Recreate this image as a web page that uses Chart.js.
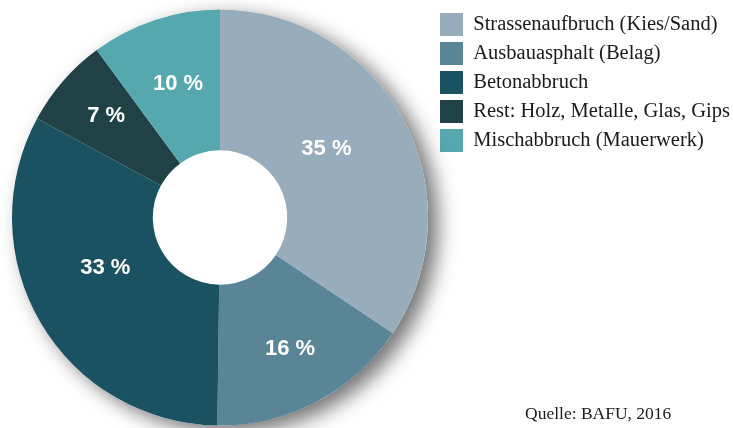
<!DOCTYPE html>
<html>
<head>
<meta charset="utf-8">
<script src="https://cdn.jsdelivr.net/npm/chart.js@4"></script>
<style>
  body { margin: 0; background: #fff; }
</style>
</head>
<body>
<canvas id="myChart" width="733" height="428"></canvas>
<script>
const categories = [
    'Strassenaufbruch (Kies/Sand)',
    'Ausbauasphalt (Belag)',
    'Betonabbruch',
    'Rest: Holz, Metalle, Glas, Gips',
    'Mischabbruch (Mauerwerk)'
];
// slice sizes, in percent
const shares = [34.4, 15.8, 32.7, 7.0, 10.1];
// the percent labels printed on the slices
const shareLabels = ['35 %', '16 %', '33 %', '7 %', '10 %'];
const sliceColors = ['#98adbb', '#598597', '#1a5262', '#204246', '#55a8ad'];
// small hand nudges for the slice labels (x, y)
const labelNudge = [[-15, -4], [6, 10], [4, -19], [-10, -11], [1, -3]];
const sourceText = 'Quelle: BAFU, 2016';

const shadowPlugin = {
    id: 'pieShadow',
    beforeDatasetsDraw(chart) {
        const arc = chart.getDatasetMeta(0).data[0];
        if (!arc) return;
        const ctx = chart.ctx;
        ctx.save();
        ctx.shadowColor = 'rgba(0,0,0,0.55)';
        ctx.shadowBlur = 20;
        ctx.shadowOffsetX = 10;
        ctx.shadowOffsetY = 7;
        ctx.beginPath();
        ctx.arc(arc.x, arc.y, arc.outerRadius, 0, Math.PI * 2);
        ctx.fillStyle = '#fff';
        ctx.fill();
        ctx.restore();
    }
};

const sliceLabels = {
    id: 'sliceLabels',
    afterDatasetsDraw(chart) {
        const ctx = chart.ctx;
        ctx.save();
        ctx.font = 'bold 22px "Liberation Sans", Arial, sans-serif';
        ctx.fillStyle = '#fff';
        ctx.textAlign = 'center';
        ctx.textBaseline = 'middle';
        chart.getDatasetMeta(0).data.forEach((arc, i) => {
            const p = arc.getCenterPoint();
            ctx.fillText(shareLabels[i], p.x + labelNudge[i][0], p.y + labelNudge[i][1]);
        });
        ctx.restore();
    },
    afterDraw(chart) {
        const ctx = chart.ctx;
        ctx.save();
        ctx.font = '17.5px "Liberation Serif", "Times New Roman", serif';
        ctx.fillStyle = '#1a1a1a';
        ctx.textAlign = 'left';
        ctx.textBaseline = 'alphabetic';
        ctx.fillText(sourceText, 525, 419);
        ctx.restore();
    }
};

const ctx = document.getElementById('myChart');

const chart = new Chart(ctx, {
    type: 'doughnut',
    data: {
        labels: categories,
        datasets: [{
            data: shares,
            backgroundColor: sliceColors,
            borderWidth: 0,
            radius: 208,
            cutout: 68
        }]
    },
    options: {
        responsive: false,
        animation: false,
        devicePixelRatio: 1,
        layout: {
            padding: { left: 6, top: 7, right: 0, bottom: -5 }
        },
        plugins: {
            tooltip: { enabled: false },
            legend: {
                position: 'right',
                align: 'start',
                maxWidth: 299,
                labels: {
                    boxWidth: 23,
                    boxHeight: 23,
                    padding: 6,
                    color: '#1a1a1a',
                    font: { family: '"Liberation Serif", "Times New Roman", serif', size: 20.5 }
                }
            }
        }
    },
    plugins: [shadowPlugin, sliceLabels]
});
</script>
</body>
</html>
